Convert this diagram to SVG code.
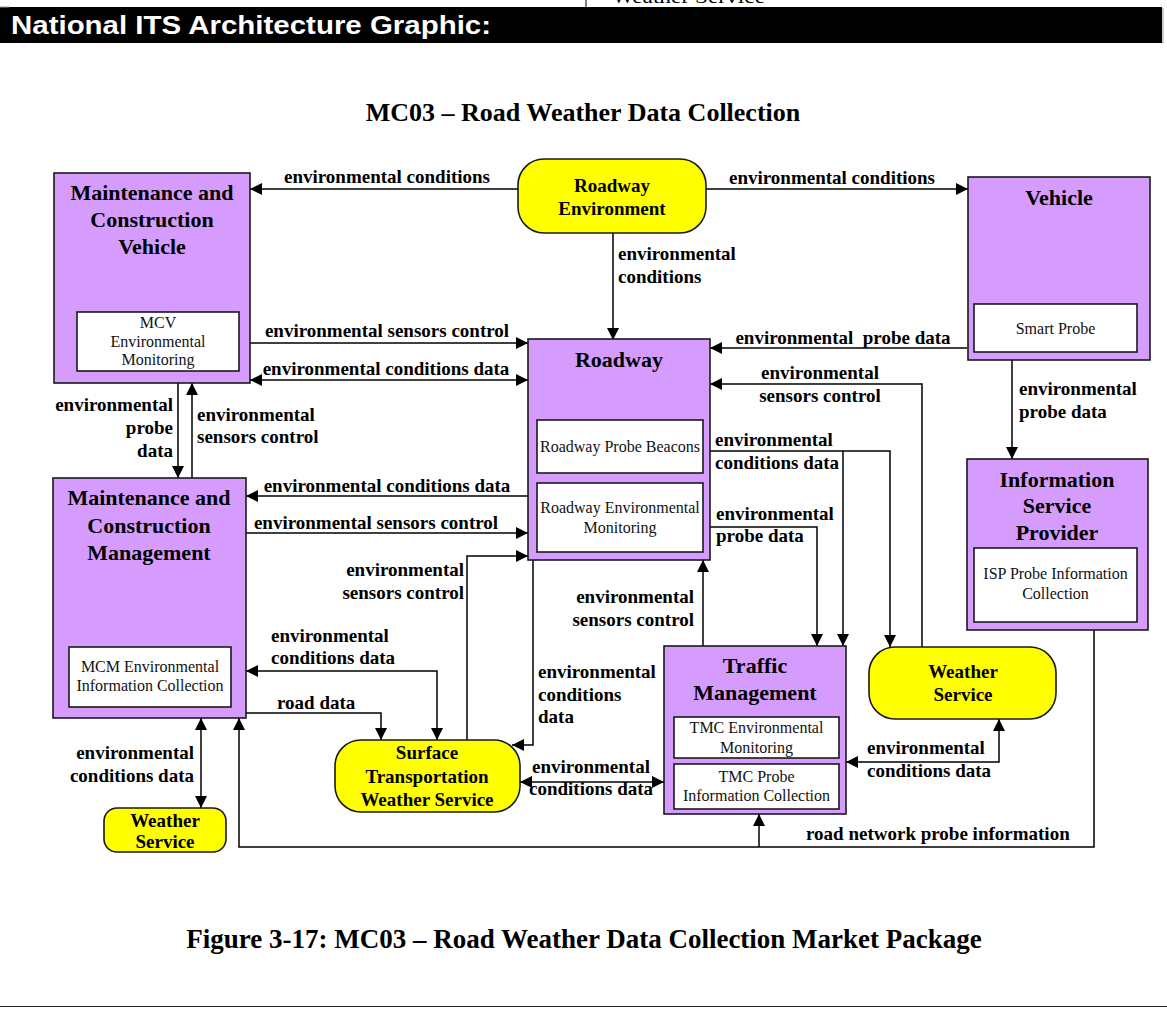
<svg xmlns="http://www.w3.org/2000/svg" width="1167" height="1009" viewBox="0 0 1167 1009">
  <style>
    .box { fill: #D59CFE; stroke: #1a1a1a; stroke-width: 1.6; }
    .term { fill: #FFFF00; stroke: #1a1a1a; stroke-width: 1.6; }
    .inner { fill: #ffffff; stroke: #1a1a1a; stroke-width: 1.6; }
    .ttl { font-family: "Liberation Serif", "Times New Roman", serif; font-weight: bold; font-size: 22px; fill: #000; text-anchor: middle; }
    .tt { font-family: "Liberation Serif", "Times New Roman", serif; font-weight: bold; font-size: 19px; fill: #000; text-anchor: middle; }
    .sub { font-family: "Liberation Serif", "Times New Roman", serif; font-size: 16px; fill: #111; text-anchor: middle; }
    .lbl { font-family: "Liberation Serif", "Times New Roman", serif; font-weight: bold; font-size: 19px; fill: #000; }
    .mid { text-anchor: middle; }
    .end { text-anchor: end; }
    .cap { font-family: "Liberation Serif", "Times New Roman", serif; font-weight: bold; fill: #000; text-anchor: middle; }
    #connectors path { fill: none; stroke: #000; stroke-width: 1.5; }
  </style>
  <defs>
    <marker id="arr" markerUnits="userSpaceOnUse" markerWidth="13" markerHeight="13" refX="12" refY="6" orient="auto-start-reverse">
      <path d="M0,0 L12,6 L0,12 z" fill="#000"/>
    </marker>
  </defs>

  <rect width="1167" height="1009" fill="#ffffff"/>

  <!-- page header band -->
  <g id="header">
    <text x="612" y="3" font-family="Liberation Serif, serif" font-size="18" fill="#000" textLength="153" lengthAdjust="spacingAndGlyphs">Weather Service</text>
    <line x1="586" y1="0" x2="586" y2="7" stroke="#000" stroke-width="1"/>
    <rect x="0" y="7" width="1162" height="36" fill="#000"/>
    <line x1="0" y1="7" x2="9" y2="7" stroke="#999" stroke-width="1"/>
    <line x1="1163" y1="8" x2="1163" y2="43" stroke="#999" stroke-width="1"/>
    <text x="11" y="34" font-family="Liberation Sans, Arial, sans-serif" font-weight="bold" font-size="25" fill="#fff" textLength="480" lengthAdjust="spacingAndGlyphs">National ITS Architecture Graphic:</text>
  </g>

  <text class="cap" x="583" y="121" font-size="26">MC03 – Road Weather Data Collection</text>

  <!-- connectors -->
  <g id="connectors">
    <path d="M518,189 H250" marker-end="url(#arr)"/>
    <path d="M706,189 H968" marker-end="url(#arr)"/>
    <path d="M613,233 V340" marker-end="url(#arr)"/>
    <path d="M250,343 H528" marker-end="url(#arr)"/>
    <path d="M250,380 H528" marker-start="url(#arr)" marker-end="url(#arr)"/>
    <path d="M178,383 V478" marker-end="url(#arr)"/>
    <path d="M192,478 V383" marker-end="url(#arr)"/>
    <path d="M967,348 H710" marker-end="url(#arr)"/>
    <path d="M922,647 V384 H710" marker-end="url(#arr)"/>
    <path d="M1012,360 V459" marker-end="url(#arr)"/>
    <path d="M528,496 H246" marker-end="url(#arr)"/>
    <path d="M246,533 H528" marker-end="url(#arr)"/>
    <path d="M467,740 V556 H528" marker-end="url(#arr)"/>
    <path d="M710,451 H890 V647" marker-end="url(#arr)"/>
    <path d="M843,451 V646" marker-end="url(#arr)"/>
    <path d="M710,527 H817 V646" marker-end="url(#arr)"/>
    <path d="M703,646 V560" marker-end="url(#arr)"/>
    <path d="M533,560 V745 H512" marker-end="url(#arr)"/>
    <path d="M246,671 H437 V740" marker-start="url(#arr)" marker-end="url(#arr)"/>
    <path d="M246,713 H381 V740" marker-end="url(#arr)"/>
    <path d="M201,718 V808" marker-start="url(#arr)" marker-end="url(#arr)"/>
    <path d="M520,782 H664" marker-start="url(#arr)" marker-end="url(#arr)"/>
    <path d="M846,762 H999 V719" marker-start="url(#arr)" marker-end="url(#arr)"/>
    <path d="M1094,630 V847 H239 V718" marker-end="url(#arr)"/>
    <path d="M759,847 V814" marker-end="url(#arr)"/>
  </g>

  <!-- connector labels -->
  <g id="labels">
    <text class="lbl mid" x="387" y="183">environmental conditions</text>
    <text class="lbl mid" x="832" y="184">environmental conditions</text>
    <text class="lbl" x="618" y="260">environmental</text>
    <text class="lbl" x="618" y="283">conditions</text>
    <text class="lbl mid" x="387" y="337">environmental sensors control</text>
    <text class="lbl mid" x="386" y="375">environmental conditions data</text>
    <text class="lbl mid" x="843" y="344" xml:space="preserve">environmental  probe data</text>
    <text class="lbl mid" x="820" y="379">environmental</text>
    <text class="lbl mid" x="820" y="402">sensors control</text>
    <text class="lbl" x="1019" y="395">environmental</text>
    <text class="lbl" x="1019" y="418">probe data</text>
    <text class="lbl end" x="173" y="411">environmental</text>
    <text class="lbl end" x="173" y="434">probe</text>
    <text class="lbl end" x="173" y="457">data</text>
    <text class="lbl" x="197" y="421">environmental</text>
    <text class="lbl" x="197" y="443">sensors control</text>
    <text class="lbl mid" x="387" y="492">environmental conditions data</text>
    <text class="lbl mid" x="376" y="529">environmental sensors control</text>
    <text class="lbl end" x="464" y="576">environmental</text>
    <text class="lbl end" x="464" y="599">sensors control</text>
    <text class="lbl" x="715" y="446">environmental</text>
    <text class="lbl" x="715" y="469">conditions data</text>
    <text class="lbl" x="716" y="520">environmental</text>
    <text class="lbl" x="716" y="542">probe data</text>
    <text class="lbl end" x="694" y="603">environmental</text>
    <text class="lbl end" x="694" y="626">sensors control</text>
    <text class="lbl" x="538" y="678">environmental</text>
    <text class="lbl" x="538" y="701">conditions</text>
    <text class="lbl" x="538" y="723">data</text>
    <text class="lbl" x="271" y="642">environmental</text>
    <text class="lbl" x="271" y="664">conditions data</text>
    <text class="lbl" x="277" y="709">road data</text>
    <text class="lbl end" x="194" y="759">environmental</text>
    <text class="lbl end" x="194" y="782">conditions data</text>
    <text class="lbl mid" x="591" y="773">environmental</text>
    <text class="lbl mid" x="591" y="795">conditions data</text>
    <text class="lbl" x="867" y="754">environmental</text>
    <text class="lbl" x="867" y="777">conditions data</text>
    <text class="lbl" x="806" y="840">road network probe information</text>
  </g>

  <!-- nodes -->
  <g id="mcv">
    <rect class="box" x="54" y="173" width="196" height="210"/>
    <text class="ttl" x="152" y="200">Maintenance and</text>
    <text class="ttl" x="152" y="227">Construction</text>
    <text class="ttl" x="152" y="254">Vehicle</text>
    <rect class="inner" x="77" y="312" width="162" height="59"/>
    <text class="sub" x="158" y="328">MCV</text>
    <text class="sub" x="158" y="347">Environmental</text>
    <text class="sub" x="158" y="365">Monitoring</text>
  </g>

  <g id="roadway-environment">
    <rect class="term" x="518" y="159" width="188" height="74" rx="26" ry="26"/>
    <text class="tt" x="612" y="192">Roadway</text>
    <text class="tt" x="612" y="215">Environment</text>
  </g>

  <g id="vehicle">
    <rect class="box" x="968" y="177" width="182" height="183"/>
    <text class="ttl" x="1059" y="205">Vehicle</text>
    <rect class="inner" x="974" y="304" width="163" height="48"/>
    <text class="sub" x="1055.5" y="334">Smart Probe</text>
  </g>

  <g id="roadway">
    <rect class="box" x="528" y="339" width="182" height="221"/>
    <text class="ttl" x="619" y="367">Roadway</text>
    <rect class="inner" x="537" y="420" width="166" height="53"/>
    <text class="sub" x="620" y="452">Roadway Probe Beacons</text>
    <rect class="inner" x="537" y="483" width="166" height="69"/>
    <text class="sub" x="620" y="513">Roadway Environmental</text>
    <text class="sub" x="620" y="533">Monitoring</text>
  </g>

  <g id="mcm">
    <rect class="box" x="53" y="478" width="193" height="240"/>
    <text class="ttl" x="149" y="505">Maintenance and</text>
    <text class="ttl" x="149" y="533">Construction</text>
    <text class="ttl" x="149" y="560">Management</text>
    <rect class="inner" x="69" y="647" width="162" height="60"/>
    <text class="sub" x="150" y="672">MCM Environmental</text>
    <text class="sub" x="150" y="691">Information Collection</text>
  </g>

  <g id="isp">
    <rect class="box" x="967" y="459" width="181" height="171"/>
    <text class="ttl" x="1057" y="487">Information</text>
    <text class="ttl" x="1057" y="513">Service</text>
    <text class="ttl" x="1057" y="540">Provider</text>
    <rect class="inner" x="974" y="548" width="163" height="74"/>
    <text class="sub" x="1055.5" y="579">ISP Probe Information</text>
    <text class="sub" x="1055.5" y="599">Collection</text>
  </g>

  <g id="traffic-management">
    <rect class="box" x="664" y="646" width="182" height="168"/>
    <text class="ttl" x="755" y="673">Traffic</text>
    <text class="ttl" x="755" y="700">Management</text>
    <rect class="inner" x="674" y="717" width="165" height="41"/>
    <text class="sub" x="756.5" y="733">TMC Environmental</text>
    <text class="sub" x="756.5" y="753">Monitoring</text>
    <rect class="inner" x="674" y="764" width="165" height="45"/>
    <text class="sub" x="756.5" y="782">TMC Probe</text>
    <text class="sub" x="756.5" y="801">Information Collection</text>
  </g>

  <g id="weather-service-east">
    <rect class="term" x="869" y="647" width="187" height="72" rx="26" ry="26"/>
    <text class="tt" x="963" y="678">Weather</text>
    <text class="tt" x="963" y="701">Service</text>
  </g>

  <g id="stws">
    <rect class="term" x="335" y="740" width="185" height="72" rx="26" ry="26"/>
    <text class="tt" x="427" y="759">Surface</text>
    <text class="tt" x="427" y="783">Transportation</text>
    <text class="tt" x="427" y="806">Weather Service</text>
  </g>

  <g id="weather-service-west">
    <rect class="term" x="104" y="808" width="122" height="44" rx="13" ry="13"/>
    <text class="tt" x="165" y="827">Weather</text>
    <text class="tt" x="165" y="848">Service</text>
  </g>

  <text class="cap" x="584" y="948" font-size="27">Figure 3-17: MC03 – Road Weather Data Collection Market Package</text>
  <line x1="0" y1="1006.5" x2="1167" y2="1006.5" stroke="#222" stroke-width="1.2"/>
</svg>
